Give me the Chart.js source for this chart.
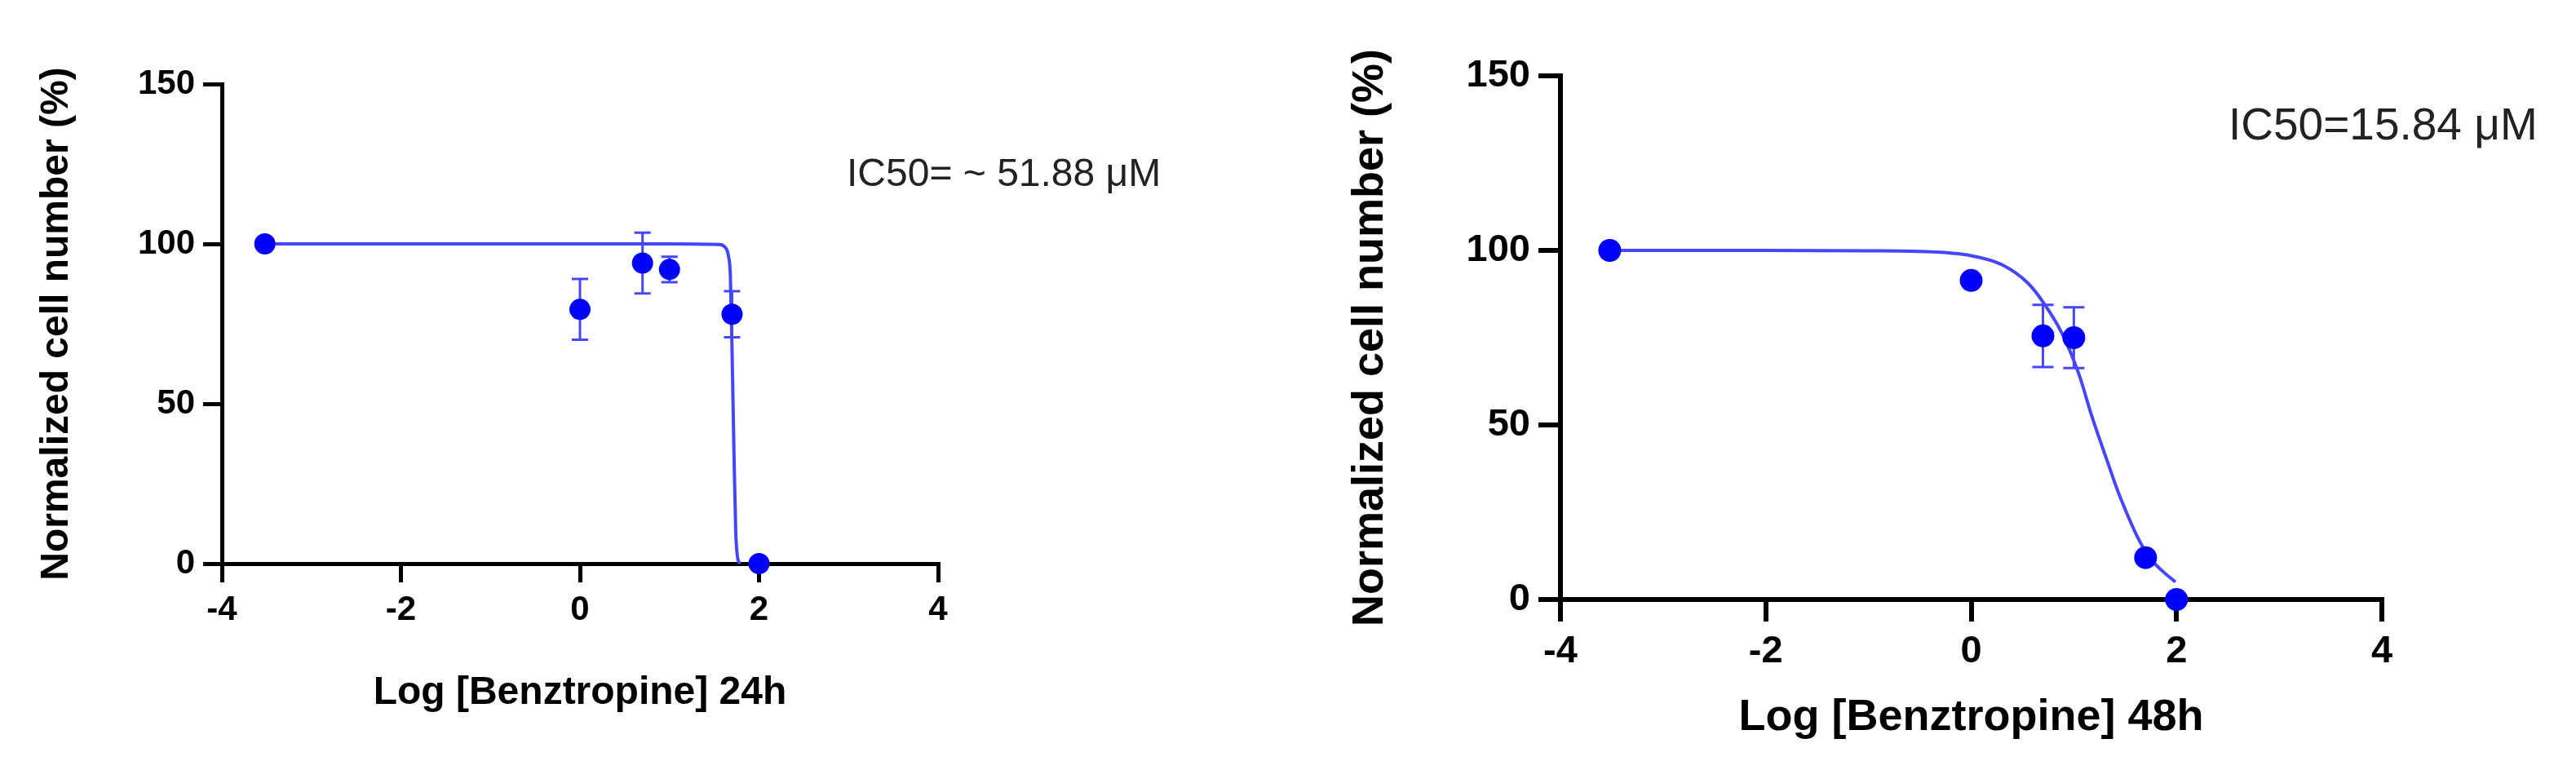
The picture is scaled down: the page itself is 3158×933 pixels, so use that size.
<!DOCTYPE html>
<html>
<head>
<meta charset="utf-8">
<script src="https://cdn.jsdelivr.net/npm/chart.js@4.4.0/dist/chart.umd.min.js"></script>
<style>
  html, body { margin: 0; padding: 0; background: #fff; }
  body { width: 3158px; height: 933px; position: relative; overflow: hidden; }
  canvas { position: absolute; top: 0; }
  #c24 { left: 0; }
  #c48 { left: 1579px; }
  .ic50 { position: absolute; font-family: "Liberation Sans", Arial, sans-serif; color: #222; white-space: nowrap; }
</style>
</head>
<body>
<canvas id="c24" width="1579" height="933"></canvas>
<canvas id="c48" width="1579" height="933"></canvas>
<div class="ic50" style="left:1038px; top:188px; font-size:48px; line-height:48px;">IC50= ~ 51.88 μM</div>
<div class="ic50" style="left:2732px; top:125px; font-size:55px; line-height:55px;">IC50=15.84 μM</div>
<script>
// log concentration of each dose
const doseLog = [-3.52, 0, 0.699, 1, 1.699, 2];

// 24h: mean and error (%)
const cells24h = [100, 79.5, 94, 92, 78, 0];
const err24h = [0, 9.5, 9.5, 4, 7.2, 0];

// 48h: mean and error (%)
const cells48h = [100, 91.4, 75.5, 75, 12, 0];
const err48h = [0, 0, 8.9, 8.7, 0, 0];

// fitted curves
const fit24hX = [-3.52, 1.0, 1.55, 1.62, 1.66, 1.68, 1.70, 1.72, 1.74, 1.76, 1.79];
const fit24hY = [100, 100, 99.8, 99, 96, 90, 65, 35, 10, 2, 0];
const fit48hX = [-3.52, -2, -1, -0.5, 0, 0.3, 0.55, 0.70, 0.88, 1.05, 1.17, 1.25, 1.33, 1.41, 1.49, 1.61, 1.73, 1.85, 1.99];
const fit48hY = [100, 100, 99.9, 99.7, 98.5, 95.9, 90.7, 85.2, 76.5, 64.5, 53, 46, 39.3, 32.5, 26.5, 18.5, 12.3, 8.5, 5];

const xTicks = [-4, -2, 0, 2, 4];
const yTicks = [0, 50, 100, 150];
const yTitle = 'Normalized cell number (%)';
const xTitle24 = 'Log [Benztropine] 24h';
const xTitle48 = 'Log [Benztropine] 48h';

const FONT = '"Liberation Sans", Arial, sans-serif';

const errorBars = {
  id: 'errorBars',
  beforeDatasetsDraw(chart, args, opts) {
    const { ctx } = chart;
    const x = chart.scales.x, y = chart.scales.y;
    ctx.save();
    ctx.strokeStyle = opts.color;
    ctx.lineWidth = opts.width;
    opts.xs.forEach((xv, i) => {
      const e = opts.errors[i];
      if (!e) return;
      const px = x.getPixelForValue(xv);
      const top = y.getPixelForValue(opts.ys[i] + e);
      const bot = y.getPixelForValue(opts.ys[i] - e);
      const h = opts.cap / 2;
      ctx.beginPath();
      ctx.moveTo(px, top); ctx.lineTo(px, bot);
      ctx.moveTo(px - h, top); ctx.lineTo(px + h, top);
      ctx.moveTo(px - h, bot); ctx.lineTo(px + h, bot);
      ctx.stroke();
    });
    ctx.restore();
  }
};

const pts = (xs, ys) => xs.map((v, i) => ({ x: v, y: ys[i] }));

function makeChart(id, g) {
  return new Chart(document.getElementById(id), {
    type: 'scatter',
    data: {
      datasets: [
        {
          type: 'scatter',
          data: pts(doseLog, g.means),
          backgroundColor: '#0000ff',
          borderColor: '#0000ff',
          borderWidth: 0,
          pointRadius: g.r,
          clip: false,
          order: 0
        },
        {
          type: 'line',
          data: pts(g.fitX, g.fitY),
          borderColor: 'rgb(70,70,255)',
          borderWidth: 4,
          pointRadius: 0,
          cubicInterpolationMode: 'monotone',
          fill: false,
          clip: false,
          order: 1
        }
      ]
    },
    options: {
      responsive: false,
      animation: false,
      devicePixelRatio: 1,
      layout: { padding: { left: 0, right: g.padR, top: g.padT, bottom: 0 } },
      plugins: {
        legend: { display: false },
        tooltip: { enabled: false },
        errorBars: { xs: doseLog, ys: g.means, errors: g.errs, cap: g.cap, width: 3, color: 'rgb(70,70,255)' }
      },
      scales: {
        x: {
          type: 'linear', min: -4, max: 4,
          afterBuildTicks: s => { s.ticks = xTicks.map(v => ({ value: v })); },
          afterFit: s => { s.height = g.xAxisH; },
          ticks: { font: { family: FONT, size: g.tickFont, weight: 'bold' }, color: '#000', padding: 9, maxRotation: 0, autoSkip: false },
          grid: { drawOnChartArea: false, drawTicks: true, tickLength: g.tick, tickWidth: g.axisW, lineWidth: g.axisW, color: '#000', tickColor: '#000' },
          border: { display: true, color: '#000', width: g.axisW },
          title: { display: true, text: g.xTitle, color: '#000', font: { family: FONT, size: g.titleFont, weight: 'bold', lineHeight: 1 }, padding: { top: 0, bottom: g.xTitlePad } }
        },
        y: {
          type: 'linear', min: 0, max: 150,
          afterBuildTicks: s => { s.ticks = yTicks.map(v => ({ value: v })); },
          afterFit: s => { s.width = g.yAxisW; },
          ticks: { font: { family: FONT, size: g.tickFont, weight: 'bold' }, color: '#000', padding: 10, autoSkip: false },
          grid: { drawOnChartArea: false, drawTicks: true, tickLength: g.tick, tickWidth: g.axisW, lineWidth: g.axisW, color: '#000', tickColor: '#000' },
          border: { display: true, color: '#000', width: g.axisW },
          title: { display: true, text: yTitle, color: '#000', font: { family: FONT, size: g.titleFont, weight: 'bold', lineHeight: 1 }, padding: { top: g.yTitlePad, bottom: 0 } }
        }
      }
    },
    plugins: [errorBars]
  });
}

makeChart('c24', {
  means: cells24h, errs: err24h, fitX: fit24hX, fitY: fit24hY, xTitle: xTitle24,
  r: 13, cap: 20, axisW: 5, tick: 23, tickFont: 42, titleFont: 48,
  padT: 103, padR: 429, xAxisH: 242, yAxisW: 272, xTitlePad: 59, yTitlePad: 46
});

makeChart('c48', {
  means: cells48h, errs: err48h, fitX: fit48hX, fitY: fit48hY, xTitle: xTitle48,
  r: 14, cap: 26, axisW: 6, tick: 27, tickFont: 47, titleFont: 54,
  padT: 93, padR: 238, xAxisH: 198, yAxisW: 334, xTitlePad: 26, yTitlePad: 74
});
</script>
</body>
</html>
